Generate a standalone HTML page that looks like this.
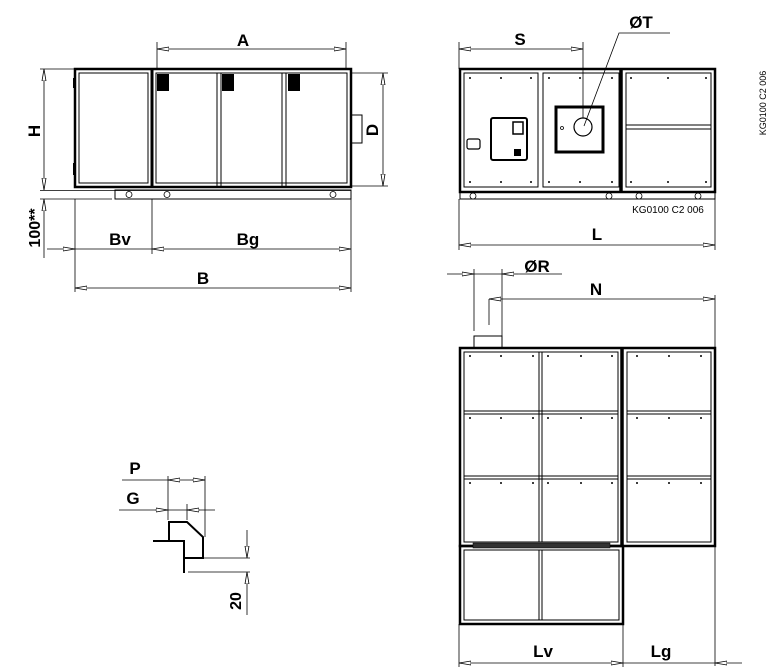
<!DOCTYPE html>
<html><head><meta charset="utf-8"><style>
html,body{margin:0;padding:0;background:#fff;}
svg{display:block}
text{font-family:"Liberation Sans",Arial,sans-serif;font-weight:bold;fill:#000}
</style></head><body>
<svg width="772" height="672" viewBox="0 0 772 672" xmlns="http://www.w3.org/2000/svg">
<defs>
<marker id="a" viewBox="0 0 12 6" refX="12" refY="3" markerWidth="12" markerHeight="6" orient="auto-start-reverse" markerUnits="userSpaceOnUse">
<path d="M0,1 L12,3 L0,5 Z" fill="#fff" stroke="#000" stroke-width="0.8"/></marker>
</defs>
<g fill="none" stroke="#000">
<!-- ===== Front view (left) ===== -->
<rect x="75" y="69" width="276" height="118" stroke-width="2.5"/>
<rect x="79" y="73" width="69" height="110" stroke-width="1"/>
<rect x="156" y="73" width="191" height="110" stroke-width="1"/>
<line x1="152" y1="69" x2="152" y2="187" stroke-width="3"/>
<line x1="217" y1="73" x2="217" y2="186" stroke-width="1"/>
<line x1="221" y1="73" x2="221" y2="186" stroke-width="1"/>
<line x1="282" y1="73" x2="282" y2="186" stroke-width="1"/>
<line x1="286" y1="73" x2="286" y2="186" stroke-width="1"/>
<rect x="73" y="78" width="3" height="10" fill="#000" stroke="none"/>
<rect x="73" y="163" width="3" height="12" fill="#000" stroke="none"/>
<rect x="157" y="74" width="12" height="17" fill="#000" stroke="none"/>
<rect x="222" y="74" width="12" height="17" fill="#000" stroke="none"/>
<rect x="288" y="74" width="12" height="17" fill="#000" stroke="none"/>
<rect x="115" y="190" width="236" height="9" stroke-width="1"/>
<circle cx="129" cy="194.5" r="3" stroke-width="0.8"/>
<circle cx="167" cy="194.5" r="3" stroke-width="0.8"/>
<circle cx="333" cy="194.5" r="3" stroke-width="0.8"/>
<rect x="351" y="115" width="11" height="28" stroke-width="1"/>
<!-- dims -->
<line x1="40" y1="69" x2="75" y2="69" stroke-width="0.8"/>
<line x1="40" y1="190.5" x2="351" y2="190.5" stroke-width="0.8"/>
<line x1="40" y1="199" x2="112" y2="199" stroke-width="0.8"/>
<line x1="44" y1="69" x2="44" y2="190" stroke-width="0.8" marker-start="url(#a)" marker-end="url(#a)"/>
<line x1="44" y1="199" x2="44" y2="258" stroke-width="0.8" marker-start="url(#a)"/>
<line x1="157" y1="42" x2="157" y2="69" stroke-width="0.8"/>
<line x1="346" y1="42" x2="346" y2="69" stroke-width="0.8"/>
<line x1="157" y1="49" x2="346" y2="49" stroke-width="0.8" marker-start="url(#a)" marker-end="url(#a)"/>
<line x1="351" y1="73" x2="388" y2="73" stroke-width="0.8"/>
<line x1="351" y1="186" x2="388" y2="186" stroke-width="0.8"/>
<line x1="383" y1="73" x2="383" y2="186" stroke-width="0.8" marker-start="url(#a)" marker-end="url(#a)"/>
<line x1="75" y1="199" x2="75" y2="292" stroke-width="0.8"/>
<line x1="152" y1="199" x2="152" y2="254" stroke-width="0.8"/>
<line x1="351" y1="199" x2="351" y2="292" stroke-width="0.8"/>
<line x1="47" y1="249" x2="75" y2="249" stroke-width="0.8" marker-end="url(#a)"/>
<line x1="75" y1="249" x2="152" y2="249" stroke-width="0.8"/>
<line x1="152" y1="249" x2="351" y2="249" stroke-width="0.8" marker-start="url(#a)" marker-end="url(#a)"/>
<line x1="75" y1="288" x2="351" y2="288" stroke-width="0.8" marker-start="url(#a)" marker-end="url(#a)"/>

<!-- ===== Side view (top right) ===== -->
<rect x="460" y="69" width="255" height="123" stroke-width="2.5"/>
<rect x="464" y="73" width="74" height="114" stroke-width="1"/>
<rect x="543" y="73" width="76" height="114" stroke-width="1"/>
<line x1="621" y1="69" x2="621" y2="192" stroke-width="3.5"/>
<rect x="626" y="73" width="85" height="114" stroke-width="1"/>
<line x1="626" y1="125" x2="711" y2="125" stroke-width="1"/>
<line x1="626" y1="129" x2="711" y2="129" stroke-width="1"/>
<rect x="460" y="192" width="255" height="7" stroke-width="1"/>
<circle cx="473" cy="196" r="3" stroke-width="0.8"/>
<circle cx="609" cy="196" r="3" stroke-width="0.8"/>
<circle cx="639" cy="196" r="3" stroke-width="0.8"/>
<circle cx="698" cy="196" r="3" stroke-width="0.8"/>
<rect x="491" y="118" width="36" height="42" rx="2" stroke-width="2"/>
<rect x="513" y="122" width="10" height="12" stroke-width="1.5"/>
<rect x="514" y="149" width="7" height="7" fill="#000" stroke="none"/>
<rect x="467" y="139" width="13" height="10" rx="2" stroke-width="1.2"/>
<rect x="556" y="107" width="47" height="45" stroke-width="3"/>
<circle cx="583" cy="127" r="9" stroke-width="1.2"/>
<circle cx="562" cy="128" r="1.5" stroke-width="0.8"/>
<!-- dims -->
<line x1="459" y1="42" x2="459" y2="69" stroke-width="0.8"/>
<line x1="583" y1="42" x2="583" y2="118" stroke-width="0.8"/>
<line x1="459" y1="49" x2="583" y2="49" stroke-width="0.8" marker-start="url(#a)" marker-end="url(#a)"/>
<polyline points="670,33 619,33 584,126" stroke-width="0.8"/>
<line x1="459" y1="199" x2="459" y2="250" stroke-width="0.8"/>
<line x1="715" y1="199" x2="715" y2="250" stroke-width="0.8"/>
<line x1="459" y1="245" x2="715" y2="245" stroke-width="0.8" marker-start="url(#a)" marker-end="url(#a)"/>

<!-- ===== Top view (bottom right) ===== -->
<rect x="460" y="348" width="255" height="198" stroke-width="2.5"/>
<rect x="464" y="352" width="154" height="190" stroke-width="1"/>
<line x1="539" y1="352" x2="539" y2="542" stroke-width="1"/>
<line x1="542" y1="352" x2="542" y2="542" stroke-width="1"/>
<line x1="464" y1="411" x2="618" y2="411" stroke-width="1"/>
<line x1="464" y1="414" x2="618" y2="414" stroke-width="1"/>
<line x1="464" y1="476" x2="618" y2="476" stroke-width="1"/>
<line x1="464" y1="479" x2="618" y2="479" stroke-width="1"/>
<line x1="622" y1="348" x2="622" y2="546" stroke-width="3.5"/>
<rect x="627" y="352" width="84" height="190" stroke-width="1"/>
<line x1="627" y1="411" x2="711" y2="411" stroke-width="1"/>
<line x1="627" y1="414" x2="711" y2="414" stroke-width="1"/>
<line x1="627" y1="476" x2="711" y2="476" stroke-width="1"/>
<line x1="627" y1="479" x2="711" y2="479" stroke-width="1"/>
<rect x="460" y="546" width="163" height="78" stroke-width="2.5"/>
<rect x="473" y="543" width="137" height="5" fill="#333" stroke-width="0.5"/>
<rect x="464" y="550" width="155" height="70" stroke-width="1"/>
<line x1="539" y1="550" x2="539" y2="620" stroke-width="1"/>
<line x1="542" y1="550" x2="542" y2="620" stroke-width="1"/>
<rect x="474" y="336" width="28" height="12" stroke-width="1"/>
<!-- dims -->
<line x1="474" y1="269" x2="474" y2="331" stroke-width="0.8"/>
<line x1="502" y1="269" x2="502" y2="336" stroke-width="0.8"/>
<line x1="447" y1="274" x2="474" y2="274" stroke-width="0.8" marker-end="url(#a)"/>
<line x1="474" y1="274" x2="502" y2="274" stroke-width="0.8"/>
<line x1="518" y1="274" x2="502" y2="274" stroke-width="0.8" marker-end="url(#a)"/>
<line x1="518" y1="274" x2="562" y2="274" stroke-width="0.8"/>
<line x1="489" y1="299" x2="489" y2="325" stroke-width="0.8"/>
<line x1="489" y1="299" x2="715" y2="299" stroke-width="0.8" marker-start="url(#a)" marker-end="url(#a)"/>
<line x1="715" y1="295" x2="715" y2="666" stroke-width="0.8"/>
<line x1="459" y1="624" x2="459" y2="667" stroke-width="0.8"/>
<line x1="623" y1="624" x2="623" y2="667" stroke-width="0.8"/>
<line x1="459" y1="663" x2="623" y2="663" stroke-width="0.8" marker-start="url(#a)" marker-end="url(#a)"/>
<line x1="623" y1="663" x2="715" y2="663" stroke-width="0.8"/>
<line x1="742" y1="663" x2="715" y2="663" stroke-width="0.8" marker-end="url(#a)"/>

<!-- ===== Detail ===== -->
<line x1="122" y1="480" x2="205" y2="480" stroke-width="0.8"/>
<line x1="119" y1="510" x2="215" y2="510" stroke-width="0.8"/>
<line x1="168" y1="476" x2="168" y2="520" stroke-width="0.8"/>
<line x1="205" y1="476" x2="205" y2="537" stroke-width="0.8"/>
<line x1="187" y1="504" x2="187" y2="520" stroke-width="0.8"/>
<line x1="180" y1="480" x2="168" y2="480" stroke-width="0.8" marker-end="url(#a)"/>
<line x1="192" y1="480" x2="205" y2="480" stroke-width="0.8" marker-end="url(#a)"/>
<line x1="155" y1="510" x2="168" y2="510" stroke-width="0.8" marker-end="url(#a)"/>
<line x1="200" y1="510" x2="187" y2="510" stroke-width="0.8" marker-end="url(#a)"/>
<path d="M153,541 H184 V573" stroke-width="2"/>
<path d="M169,541 V522 H187 L203,537 V558 H184" stroke-width="2"/>
<line x1="184" y1="558" x2="250" y2="558" stroke-width="0.8"/>
<line x1="188" y1="572" x2="250" y2="572" stroke-width="0.8"/>
<line x1="247" y1="530" x2="247" y2="558" stroke-width="0.8" marker-end="url(#a)"/>
<line x1="247" y1="615" x2="247" y2="572" stroke-width="0.8" marker-end="url(#a)"/>
</g>
<!-- dots on side & top views -->
<g fill="#000">
<circle cx="470" cy="78" r="1"/><circle cx="501" cy="78" r="1"/><circle cx="531" cy="78" r="1"/>
<circle cx="549" cy="78" r="1"/><circle cx="580" cy="78" r="1"/><circle cx="612" cy="78" r="1"/>
<circle cx="470" cy="182" r="1"/><circle cx="501" cy="182" r="1"/><circle cx="531" cy="182" r="1"/>
<circle cx="549" cy="182" r="1"/><circle cx="580" cy="182" r="1"/><circle cx="612" cy="182" r="1"/>
<circle cx="631" cy="78" r="1"/><circle cx="668" cy="78" r="1"/><circle cx="706" cy="78" r="1"/>
<circle cx="631" cy="182" r="1"/><circle cx="668" cy="182" r="1"/><circle cx="706" cy="182" r="1"/>
<circle cx="470" cy="356" r="1"/><circle cx="501" cy="356" r="1"/><circle cx="533" cy="356" r="1"/><circle cx="548" cy="356" r="1"/><circle cx="581" cy="356" r="1"/><circle cx="612" cy="356" r="1"/>
<circle cx="470" cy="418" r="1"/><circle cx="501" cy="418" r="1"/><circle cx="533" cy="418" r="1"/><circle cx="548" cy="418" r="1"/><circle cx="581" cy="418" r="1"/><circle cx="612" cy="418" r="1"/>
<circle cx="470" cy="483" r="1"/><circle cx="501" cy="483" r="1"/><circle cx="533" cy="483" r="1"/><circle cx="548" cy="483" r="1"/><circle cx="581" cy="483" r="1"/><circle cx="612" cy="483" r="1"/>
<circle cx="637" cy="356" r="1"/><circle cx="669" cy="356" r="1"/><circle cx="701" cy="356" r="1"/>
<circle cx="637" cy="418" r="1"/><circle cx="669" cy="418" r="1"/><circle cx="701" cy="418" r="1"/>
<circle cx="637" cy="483" r="1"/><circle cx="669" cy="483" r="1"/><circle cx="701" cy="483" r="1"/>
</g>
<!-- labels -->
<text x="243" y="46" font-size="17" text-anchor="middle">A</text>
<text x="40" y="131" font-size="17" text-anchor="middle" transform="rotate(-90 40 131)">H</text>
<text x="40" y="228" font-size="16" text-anchor="middle" transform="rotate(-90 40 228)">100**</text>
<text x="378" y="130" font-size="17" text-anchor="middle" transform="rotate(-90 378 130)">D</text>
<text x="120" y="245" font-size="17" text-anchor="middle">Bv</text>
<text x="248" y="245" font-size="17" text-anchor="middle">Bg</text>
<text x="203" y="284" font-size="17" text-anchor="middle">B</text>
<text x="520" y="45" font-size="17" text-anchor="middle">S</text>
<text x="641" y="28" font-size="17" text-anchor="middle">ØT</text>
<text x="668" y="213" font-size="10" text-anchor="middle" style="font-weight:normal">KG0100 C2 006</text>
<text x="766" y="103" font-size="9" text-anchor="middle" style="font-weight:normal" transform="rotate(-90 766 103)">KG0100 C2 006</text>
<text x="597" y="240" font-size="17" text-anchor="middle">L</text>
<text x="537" y="272" font-size="17" text-anchor="middle">ØR</text>
<text x="596" y="295" font-size="17" text-anchor="middle">N</text>
<text x="543" y="657" font-size="17" text-anchor="middle">Lv</text>
<text x="661" y="657" font-size="17" text-anchor="middle">Lg</text>
<text x="135" y="474" font-size="17" text-anchor="middle">P</text>
<text x="133" y="504" font-size="17" text-anchor="middle">G</text>
<text x="241" y="601" font-size="16" text-anchor="middle" transform="rotate(-90 241 601)">20</text>
</svg>
</body></html>
